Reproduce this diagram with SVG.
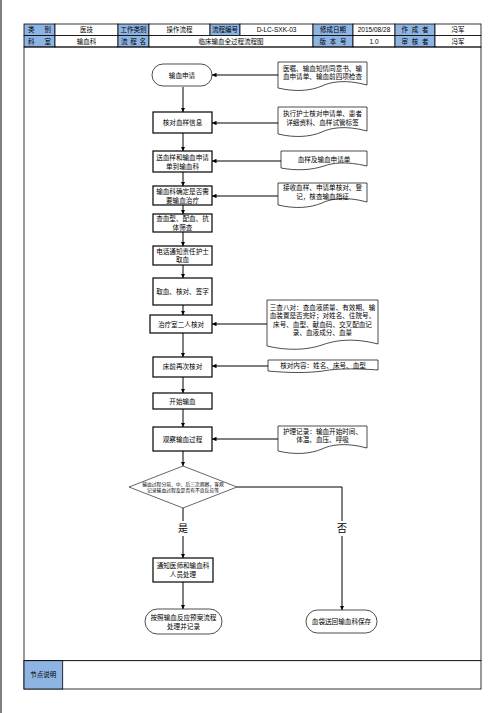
<svg xmlns="http://www.w3.org/2000/svg" width="504" height="713" viewBox="0 0 504 713">
<style>
.cell{fill:#fff;stroke:#000;stroke-width:0.8}
.lab{fill:#8EB4E3;stroke:#000;stroke-width:0.8}
.ht{font-family:"Liberation Sans","Noto Sans CJK SC",sans-serif;font-size:6.5px;text-anchor:middle;fill:#000}
.box{fill:#fff;stroke:#000;stroke-width:1.2}
.term{fill:#fff;stroke:#000;stroke-width:0.7}
.doc{fill:#fff;stroke:#000;stroke-width:0.7}
.t{font-family:"Noto Sans CJK SC",sans-serif;font-size:6.6px;text-anchor:middle;fill:#000}
.ts{font-family:"Noto Sans CJK SC",sans-serif;font-size:4.8px;text-anchor:middle;fill:#000}
.big{font-family:"Noto Sans CJK SC",sans-serif;font-size:10px;text-anchor:middle;fill:#000}
.c{fill:none;stroke:#000;stroke-width:1}
</style>
<defs>
<marker id="ah" viewBox="0 0 10 10" refX="10" refY="5" markerWidth="4.5" markerHeight="4.5" orient="auto" markerUnits="userSpaceOnUse">
<path d="M0,0 L10,5 L0,10 z" fill="#000"/>
</marker>
</defs>
<rect width="504" height="713" fill="#fff"/>
<line x1="1" y1="0" x2="1" y2="713" stroke="#000" stroke-width="1"/>
<g id="header">
<rect class="lab" x="24" y="24" width="31" height="11.5"/>
<rect class="cell" x="55" y="24" width="63" height="11.5"/>
<rect class="lab" x="118" y="24" width="31" height="11.5"/>
<rect class="cell" x="149" y="24" width="61" height="11.5"/>
<rect class="lab" x="210" y="24" width="30" height="11.5"/>
<rect class="cell" x="240" y="24" width="73" height="11.5"/>
<rect class="lab" x="313" y="24" width="40" height="11.5"/>
<rect class="cell" x="353" y="24" width="42" height="11.5"/>
<rect class="lab" x="395" y="24" width="40" height="11.5"/>
<rect class="cell" x="435" y="24" width="46" height="11.5"/>
<rect class="lab" x="24" y="35.5" width="31" height="11.5"/>
<rect class="cell" x="55" y="35.5" width="63" height="11.5"/>
<rect class="lab" x="118" y="35.5" width="31" height="11.5"/>
<rect class="cell" x="149" y="35.5" width="164" height="11.5"/>
<rect class="lab" x="313" y="35.5" width="40" height="11.5"/>
<rect class="cell" x="353" y="35.5" width="42" height="11.5"/>
<rect class="lab" x="395" y="35.5" width="40" height="11.5"/>
<rect class="cell" x="435" y="35.5" width="46" height="11.5"/>
<text class="ht" x="39.5" y="32" word-spacing="8">类 别</text>
<text class="ht" x="86.5" y="32">医技</text>
<text class="ht" x="133.5" y="32">工作类别</text>
<text class="ht" x="179.5" y="32">操作流程</text>
<text class="ht" x="225" y="32">流程编号</text>
<text class="ht" x="276.5" y="32">D-LC-SXK-03</text>
<text class="ht" x="333" y="32">修成日期</text>
<text class="ht" x="374" y="32">2015/08/28</text>
<text class="ht" x="415" y="32" word-spacing="2">作 成 者</text>
<text class="ht" x="458" y="32">冯军</text>
<text class="ht" x="39.5" y="43.5" word-spacing="8">科 室</text>
<text class="ht" x="86.5" y="43.5">输血科</text>
<text class="ht" x="133.5" y="43.5" word-spacing="1">流 程 名</text>
<text class="ht" x="231" y="43.5">临床输血全过程流程图</text>
<text class="ht" x="333" y="43.5" word-spacing="2">版 本 号</text>
<text class="ht" x="374" y="43.5">1.0</text>
<text class="ht" x="415" y="43.5" word-spacing="2">审 核 者</text>
<text class="ht" x="458" y="43.5">冯军</text>
<rect x="24" y="47" width="457" height="613.7" fill="none" stroke="#000" stroke-width="0.8"/>
<rect class="cell" x="24" y="660.7" width="457" height="28.3"/>
<rect class="lab" x="24" y="660.7" width="38.7" height="28.3"/>
<text class="ht" x="43.3" y="677">节点说明</text>
</g>
<g id="connectors">
<line class="c" x1="183" y1="87" x2="183" y2="112" marker-end="url(#ah)"/>
<line class="c" x1="183" y1="133" x2="183" y2="151" marker-end="url(#ah)"/>
<line class="c" x1="183" y1="172" x2="183" y2="186" marker-end="url(#ah)"/>
<line class="c" x1="183" y1="205" x2="183" y2="214" marker-end="url(#ah)"/>
<line class="c" x1="183" y1="232" x2="183" y2="246" marker-end="url(#ah)"/>
<line class="c" x1="183" y1="265" x2="183" y2="278" marker-end="url(#ah)"/>
<line class="c" x1="183" y1="305" x2="183" y2="315" marker-end="url(#ah)"/>
<line class="c" x1="183" y1="333" x2="183" y2="357" marker-end="url(#ah)"/>
<line class="c" x1="183" y1="377" x2="183" y2="393" marker-end="url(#ah)"/>
<line class="c" x1="183" y1="409" x2="183" y2="427" marker-end="url(#ah)"/>
<line class="c" x1="183" y1="451" x2="183" y2="466" marker-end="url(#ah)"/>
<line class="c" x1="183" y1="508" x2="183" y2="521"/>
<line class="c" x1="183" y1="536" x2="183" y2="558" marker-end="url(#ah)"/>
<line class="c" x1="183" y1="582" x2="183" y2="609" marker-end="url(#ah)"/>
<polyline class="c" points="237,487 342,487 342,521"/>
<line class="c" x1="342" y1="536" x2="342" y2="610" marker-end="url(#ah)"/>
<line class="c" x1="278" y1="75" x2="212" y2="75" marker-end="url(#ah)"/>
<line class="c" x1="278" y1="123" x2="212" y2="123" marker-end="url(#ah)"/>
<line class="c" x1="281" y1="161" x2="212" y2="161" marker-end="url(#ah)"/>
<line class="c" x1="278" y1="196" x2="212" y2="196" marker-end="url(#ah)"/>
<line class="c" x1="267" y1="324" x2="212" y2="324" marker-end="url(#ah)"/>
<line class="c" x1="268" y1="366" x2="212" y2="366" marker-end="url(#ah)"/>
<line class="c" x1="278" y1="439" x2="212" y2="439" marker-end="url(#ah)"/>
<text class="big" x="183" y="532">是</text>
<text class="big" x="342" y="532">否</text>
</g>
<g id="n1"><rect class="term" x="152" y="64" width="60" height="22" rx="11"/><text class="t" x="182" y="77.5">输血申请</text></g>
<g id="n2"><rect class="box" x="153" y="112" width="59" height="21"/><text class="t" x="182.5" y="125">核对血样信息</text></g>
<g id="n3"><rect class="box" x="153" y="151" width="59" height="21"/><text class="t" x="182.5" y="160">送血样和输血申请</text><text class="t" x="182.5" y="169">单到输血科</text></g>
<g id="n4"><rect class="box" x="153" y="186" width="59" height="19"/><text class="t" x="182.5" y="194">输血科确定是否需</text><text class="t" x="182.5" y="202.5">要输血治疗</text></g>
<g id="n5"><rect class="box" x="153" y="214" width="59" height="18"/><text class="t" x="182.5" y="221">查血型、配血、抗</text><text class="t" x="182.5" y="229.5">体筛查</text></g>
<g id="n6"><rect class="box" x="153" y="246" width="59" height="19"/><text class="t" x="182.5" y="253.5">电话通知责任护士</text><text class="t" x="182.5" y="262">取血</text></g>
<g id="n7"><rect class="box" x="153" y="278" width="59" height="27"/><text class="t" x="182.5" y="294">取血、核对、签字</text></g>
<g id="n8"><rect class="box" x="150" y="315" width="62" height="18"/><text class="t" x="181" y="326.5">治疗室二人核对</text></g>
<g id="n9"><rect class="box" x="153" y="357" width="59" height="20"/><text class="t" x="182.5" y="369">床前再次核对</text></g>
<g id="n10"><rect class="box" x="153" y="393" width="59" height="16"/><text class="t" x="182.5" y="403.5">开始输血</text></g>
<g id="n11"><rect class="box" x="153" y="427" width="59" height="24"/><text class="t" x="182.5" y="441.5">观察输血过程</text></g>
<g id="n12"><polygon points="183,466 237,487 183,508 129,487" fill="#fff" stroke="#000" stroke-width="0.6"/><text class="ts" x="183" y="485.5">输血过程分前、中、后三次观察，客观</text><text class="ts" x="183" y="491.5">记录输血过程及是否有不良反应等</text></g>
<g id="n13"><rect class="box" x="153" y="558" width="60" height="24"/><text class="t" x="183" y="567.5">通知医师和输血科</text><text class="t" x="183" y="577">人员处理</text></g>
<g id="n14"><rect class="term" x="145" y="609" width="77" height="25" rx="12.5"/><text class="t" x="183.5" y="619.5">按照输血反应预案流程</text><text class="t" x="183.5" y="628.5">处理并记录</text></g>
<g id="n15"><rect class="term" x="306" y="610" width="71" height="23" rx="11.5"/><text class="t" x="341.5" y="623.5">血袋送回输血科保存</text></g>
<g id="d1"><path class="doc" d="M278,62 H367 V85 C345,79 330,82 322,86 C310,91 295,92 278,88 Z"/><text class="t" x="322.5" y="70.5">医嘱、输血知情同意书、输</text><text class="t" x="322.5" y="79">血申请单、输血前四项检查</text></g>
<g id="d2"><path class="doc" d="M278,107 H367 V131 C345,125 330,128 322,132 C310,137 295,138 278,134 Z"/><text class="t" x="322.5" y="116">执行护士核对申请单、患者</text><text class="t" x="322.5" y="124.5">详细资料、血样试管标签</text></g>
<g id="d3"><path class="doc" d="M281,151 H367 V166 C346,161 332,163 324,166 C312,170 297,171 281,168 Z"/><text class="t" x="324" y="161.5">血样及输血申请单</text></g>
<g id="d4"><path class="doc" d="M278,183 H367 V202 C345,196 330,199 322,203 C310,208 295,209 278,205 Z"/><text class="t" x="322.5" y="190">接收血样、申请单核对、登</text><text class="t" x="322.5" y="198.5">记，核查输血指征</text></g>
<g id="d5"><path class="doc" d="M267,300 H378 V344 C351,337 333,341 322,345 C307,350 288,351 267,346 Z"/><text class="t" x="322.5" y="309.5">三查八对：查血液质量、有效期、输</text><text class="t" x="322.5" y="318">血装置是否完好；对姓名、住院号、</text><text class="t" x="322.5" y="326.5">床号、血型、献血码、交叉配血记</text><text class="t" x="322.5" y="335">录、血液成分、血量</text></g>
<g id="d6"><path class="doc" d="M268,360 H378 V370 C351,368 333,369 323,371 C308,373 290,373 268,371 Z"/><text class="t" x="323" y="367.5">核对内容：姓名、床号、血型</text></g>
<g id="d7"><path class="doc" d="M278,426 H367 V448 C345,442 330,445 322,449 C310,454 295,455 278,451 Z"/><text class="t" x="322.5" y="433.5">护理记录：输血开始时间、</text><text class="t" x="322.5" y="442">体温、血压、呼吸</text></g>
</svg>
